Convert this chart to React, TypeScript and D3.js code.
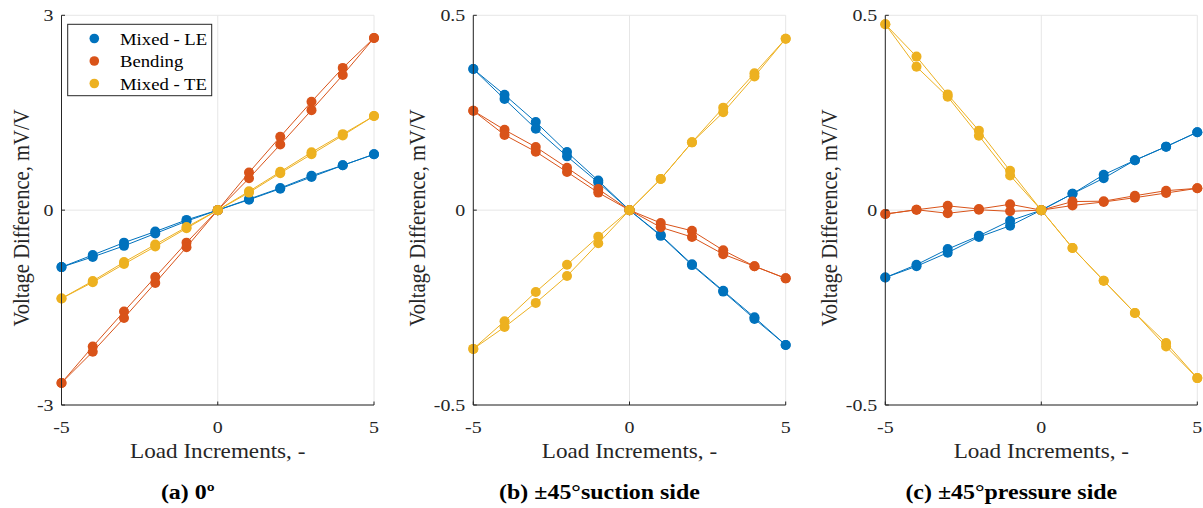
import React from "react";
import * as d3 from "d3";

const loads = [-5, -4, -3, -2, -1, 0, 1, 2, 3, 4, 5];
const seriesNames = ["Mixed - LE", "Bending", "Mixed - TE"];
const seriesColors = ["#0072BD", "#D95319", "#EDB120"];

// Panel (a) 0°
const a_LE_1 = [-0.877, -0.69, -0.5, -0.33, -0.15, 0, 0.16, 0.33, 0.51, 0.69, 0.86];
const a_LE_2 = [-0.877, -0.72, -0.55, -0.36, -0.17, 0, 0.17, 0.34, 0.53, 0.69, 0.86];
const a_BE_1 = [-2.66, -2.1, -1.56, -1.03, -0.5, 0, 0.58, 1.13, 1.67, 2.19, 2.65];
const a_BE_2 = [-2.66, -2.18, -1.66, -1.12, -0.57, 0, 0.49, 1.01, 1.54, 2.08, 2.65];
const a_TE_1 = [-1.36, -1.09, -0.8, -0.53, -0.26, 0, 0.29, 0.59, 0.89, 1.17, 1.45];
const a_TE_2 = [-1.36, -1.11, -0.83, -0.56, -0.28, 0, 0.27, 0.57, 0.86, 1.15, 1.45];

// Panel (b) ±45° suction side
const b_LE_1 = [0.362, 0.296, 0.226, 0.149, 0.076, 0, -0.064, -0.139, -0.207, -0.275, -0.346];
const b_LE_2 = [0.362, 0.285, 0.209, 0.138, 0.071, 0, -0.066, -0.141, -0.209, -0.279, -0.346];
const b_BE_1 = [0.255, 0.206, 0.162, 0.109, 0.054, 0, -0.033, -0.053, -0.103, -0.144, -0.175];
const b_BE_2 = [0.255, 0.193, 0.15, 0.098, 0.045, 0, -0.044, -0.069, -0.113, -0.144, -0.175];
const b_TE_1 = [-0.356, -0.285, -0.21, -0.14, -0.068, 0, 0.08, 0.174, 0.263, 0.351, 0.44];
const b_TE_2 = [-0.356, -0.3, -0.238, -0.169, -0.085, 0, 0.08, 0.174, 0.251, 0.343, 0.44];

// Panel (c) ±45° pressure side
const c_LE_1 = [-0.173, -0.14, -0.1, -0.066, -0.027, 0, 0.042, 0.091, 0.128, 0.163, 0.2];
const c_LE_2 = [-0.173, -0.144, -0.109, -0.069, -0.04, 0, 0.042, 0.082, 0.128, 0.163, 0.2];
const c_BE_1 = [-0.01, 0.001, 0.011, 0.003, 0.015, 0, 0.022, 0.023, 0.037, 0.05, 0.056];
const c_BE_2 = [-0.01, 0.001, -0.008, 0.001, -0.003, 0, 0.012, 0.021, 0.032, 0.044, 0.056];
const c_TE_1 = [0.477, 0.394, 0.297, 0.204, 0.101, 0, -0.097, -0.181, -0.264, -0.341, -0.431];
const c_TE_2 = [0.477, 0.368, 0.291, 0.191, 0.089, 0, -0.097, -0.181, -0.264, -0.35, -0.431];

const xTicks = [-5, 0, 5];
const yTicksA = [-3, 0, 3];
const yTicksBC = [-0.5, 0, 0.5];

const xLabel = "Load Increments, -";
const yLabel = "Voltage Difference, mV/V";

const panels = [
  {
    left: 61.5, right: 374, caption: "(a) 0º", yDomain: [-3, 3], yTicks: yTicksA,
    series: [[a_LE_1, a_LE_2], [a_BE_1, a_BE_2], [a_TE_1, a_TE_2]], legend: true, ylabX: 21,
  },
  {
    left: 473.3, right: 785.7, caption: "(b) ±45°suction side", yDomain: [-0.5, 0.5], yTicks: yTicksBC,
    series: [[b_LE_1, b_LE_2], [b_BE_1, b_BE_2], [b_TE_1, b_TE_2]], legend: false, ylabX: 417,
  },
  {
    left: 885.3, right: 1197.3, caption: "(c) ±45°pressure side", yDomain: [-0.5, 0.5], yTicks: yTicksBC,
    series: [[c_LE_1, c_LE_2], [c_BE_1, c_BE_2], [c_TE_1, c_TE_2]], legend: false, ylabX: 829,
  },
];

const TOP = 15.3;
const BOTTOM = 405;
const FONT = "Liberation Serif, DejaVu Serif, serif";
const SX = 1.14;

function T({ x, y, size, anchor = "start", bold = false, sx = SX, fill = "#262626", children }: any) {
  return (
    <text
      transform={`translate(${x},${y}) scale(${sx},1)`}
      textAnchor={anchor}
      fontSize={size}
      fontWeight={bold ? "bold" : "normal"}
      style={{ fontFamily: FONT }}
      fill={fill}
    >
      {children}
    </text>
  );
}

function Panel({ p }: { p: any }) {
  const x = d3.scaleLinear().domain([-5, 5]).range([p.left, p.right]);
  const y = d3.scaleLinear().domain(p.yDomain).range([BOTTOM, TOP]);
  const line = d3.line<number>().x((_, i) => x(loads[i])).y((d) => y(d));
  const cx = (p.left + p.right) / 2;
  const fmt = (v: number) => (v === 0 ? "0" : String(v));
  return (
    <g>
      {xTicks.map((t) => (
        <line key={"gx" + t} x1={x(t)} x2={x(t)} y1={TOP} y2={BOTTOM} stroke="#e6e6e6" strokeWidth={1} />
      ))}
      {p.yTicks.map((t: number) => (
        <line key={"gy" + t} x1={p.left} x2={p.right} y1={y(t)} y2={y(t)} stroke="#e6e6e6" strokeWidth={1} />
      ))}
      {p.series.map((runs: number[][], si: number) => (
        <g key={"s" + si}>
          {runs.map((run, ri) => (
            <path key={"l" + ri} d={line(run) || ""} fill="none" stroke={seriesColors[si]} strokeWidth={1} />
          ))}
          {runs.map((run, ri) =>
            run.map((v, i) => (
              <circle key={"c" + ri + "-" + i} cx={x(loads[i])} cy={y(v)} r={5} fill={seriesColors[si]} />
            ))
          )}
        </g>
      ))}
      <line x1={p.left} x2={p.left} y1={TOP} y2={BOTTOM} stroke="#262626" strokeWidth={1} />
      <line x1={p.left} x2={p.right} y1={BOTTOM} y2={BOTTOM} stroke="#262626" strokeWidth={1} />
      {xTicks.map((t) => (
        <g key={"xt" + t}>
          <line x1={x(t)} x2={x(t)} y1={BOTTOM} y2={BOTTOM - 3.5} stroke="#262626" strokeWidth={1} />
          <T x={x(t)} y={433} size={17.5} anchor="middle">{fmt(t)}</T>
        </g>
      ))}
      {p.yTicks.map((t: number) => (
        <g key={"yt" + t}>
          <line x1={p.left} x2={p.left + 3.5} y1={y(t)} y2={y(t)} stroke="#262626" strokeWidth={1} />
          <T x={p.left - 8} y={y(t) + 6} size={17.5} anchor="end">{fmt(t)}</T>
        </g>
      ))}
      <T x={cx} y={458} size={20.3} anchor="middle">{xLabel}</T>
      <text
        transform={`translate(${p.ylabX},218) rotate(-90) scale(1,${SX})`}
        textAnchor="middle"
        dy="0.35em"
        fontSize={20.6}
        style={{ fontFamily: FONT }}
        fill="#262626"
      >
        {yLabel}
      </text>
      <T x={cx - 30} y={499} size={21} anchor="middle" bold fill="#000">{p.caption}</T>
      {p.legend && (
        <g>
          <rect x={67.7} y={24.3} width={144} height={71.4} fill="#fff" stroke="#262626" strokeWidth={1} />
          {seriesNames.map((n, i) => (
            <g key={n}>
              <circle cx={94.3} cy={38.5 + i * 22.5} r={4.8} fill={seriesColors[i]} />
              <T x={120} y={38.5 + i * 22.5 + 6} size={17.3} sx={1.08} fill="#000">{n}</T>
            </g>
          ))}
        </g>
      )}
    </g>
  );
}

export default function App() {
  return (
    <svg
      width={1203}
      height={508}
      style={{ position: "absolute", left: 0, top: 0, background: "#fff" }}
    >
      <rect x={0} y={0} width={1203} height={508} fill="#fff" />
      {panels.map((p, i) => (
        <Panel key={i} p={p} />
      ))}
    </svg>
  );
}
